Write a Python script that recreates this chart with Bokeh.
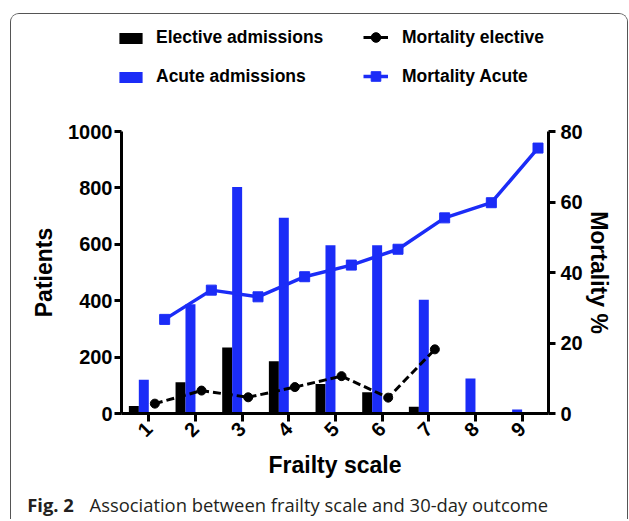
import math
from bokeh.plotting import figure
from bokeh.layouts import column
from bokeh.models import (Range1d, LinearAxis, FixedTicker, Legend, LegendItem,
                          Label, ColumnDataSource)
from bokeh.embed import file_html
from bokeh.resources import INLINE

# ---- data ----
frailty = [1, 2, 3, 4, 5, 6, 7, 8, 9]
elective_admissions = [27, 111, 234, 185, 105, 75, 24, 0, 0]
acute_admissions = [120, 387, 803, 694, 597, 597, 403, 124, 14]
frailty_elective = [1, 2, 3, 4, 5, 6, 7]
mortality_elective = [2.8, 6.5, 4.6, 7.5, 10.6, 4.5, 18.2]
mortality_acute = [26.7, 35.0, 33.1, 38.8, 42.1, 46.6, 55.5, 59.8, 75.3]
left_ticks = [0, 200, 400, 600, 800, 1000]
right_ticks = [0, 20, 40, 60, 80]
series_labels = ["Elective admissions", "Acute admissions",
                 "Mortality elective", "Mortality Acute"]
caption_bold = "Fig. 2"
caption_text = "Association between frailty scale and 30-day outcome"

BLUE = "#1b2cf7"
FONT = "Liberation Sans"
W = 616

src_bars = ColumnDataSource(dict(
    xe=[f - 0.32 for f in frailty], xa=[f - 0.107 for f in frailty],
    e=elective_admissions, a=acute_admissions))
src_me = ColumnDataSource(dict(x=[f + 0.13 for f in frailty_elective], y=mortality_elective))
src_ma = ColumnDataSource(dict(x=[f + 0.34 for f in frailty], y=mortality_acute))
bar_w = 0.214

# ---------------- main chart ----------------
p = figure(width=W, height=381, output_backend="svg", toolbar_location=None,
           x_range=Range1d(0.415, 9.565), y_range=Range1d(0, 1000),
           min_border_left=110, min_border_right=79, min_border_top=31,
           min_border_bottom=66)
p.frame_align = False
p.outline_line_color = None
p.xgrid.visible = False
p.ygrid.visible = False
p.extra_y_ranges = {"mort": Range1d(0, 80)}

p.vbar(x="xe", top="e", width=bar_w, bottom=0, source=src_bars,
       fill_color="black", line_color=None)
p.vbar(x="xa", top="a", width=bar_w, bottom=0, source=src_bars,
       fill_color=BLUE, line_color=None)
p.line("x", "y", source=src_me, y_range_name="mort", line_color="black",
       line_width=3, line_dash="8 4")
p.scatter("x", "y", source=src_me, y_range_name="mort", marker="circle",
          size=9, fill_color="black", line_color="black")
p.line("x", "y", source=src_ma, y_range_name="mort", line_color=BLUE, line_width=3.5)
p.scatter("x", "y", source=src_ma, y_range_name="mort", marker="square",
          size=10, fill_color=BLUE, line_color=BLUE)


def style_axis(ax):
    ax.axis_line_width = 3
    ax.axis_line_color = "black"
    ax.major_tick_line_width = 3
    ax.major_tick_line_color = "black"
    ax.major_tick_out = 7
    ax.major_tick_in = 0
    ax.minor_tick_line_color = None
    ax.major_label_text_font = FONT
    ax.major_label_text_font_style = "bold"
    ax.major_label_text_font_size = "20px"
    ax.major_label_text_color = "black"
    ax.axis_label_text_font = FONT
    ax.axis_label_text_font_style = "bold"
    ax.axis_label_text_font_size = "23px"
    ax.axis_label_text_color = "black"


ly = p.yaxis[0]
style_axis(ly)
ly.ticker = FixedTicker(ticks=left_ticks)
ly.axis_label = "Patients"
ly.major_label_standoff = 2
ly.axis_label_standoff = 8

bx = p.xaxis[0]
style_axis(bx)
bx.ticker = FixedTicker(ticks=frailty)
bx.axis_label = "Frailty scale"
bx.major_tick_out = 8
bx.major_label_orientation = math.pi / 4
bx.major_label_standoff = 4
bx.axis_label_standoff = 6

ry = LinearAxis(y_range_name="mort", ticker=FixedTicker(ticks=right_ticks),
                axis_label="Mortality %")
style_axis(ry)
ry.major_label_standoff = 5
ry.axis_label_standoff = 0
p.add_layout(ry, "right")

# ---------------- legend strip ----------------
lf = figure(width=W, height=86, output_backend="svg", toolbar_location=None,
            x_axis_type=None, y_axis_type=None, min_border=0,
            x_range=Range1d(100, 101), y_range=Range1d(100, 101))
lf.frame_align = False
lf.outline_line_color = None
lf.grid.visible = False
# legend proxies: share the chart's sources, hidden, shown only as legend glyphs
le_bar = lf.vbar(x="xe", top="e", width=bar_w, source=src_bars,
                 fill_color="black", line_color=None, visible=False)
la_bar = lf.vbar(x="xa", top="a", width=bar_w, source=src_bars,
                 fill_color=BLUE, line_color=None, visible=False)
le_line = lf.line("x", "y", source=src_me, line_color="black", line_width=3,
                  visible=False)
le_mark = lf.scatter("x", "y", source=src_me, marker="circle", size=9,
                     fill_color="black", line_color="black", visible=False)
la_line = lf.line("x", "y", source=src_ma, line_color=BLUE, line_width=3.5,
                  visible=False)
la_mark = lf.scatter("x", "y", source=src_ma, marker="square", size=10,
                     fill_color=BLUE, line_color=BLUE, visible=False)

common = dict(orientation="vertical", label_height=20, padding=0,
              margin=0, border_line_color=None, background_fill_alpha=0,
              inactive_fill_alpha=0,
              label_text_font=FONT, label_text_font_style="bold",
              label_text_font_size="17.5px", label_text_color="black")
legA = Legend(items=[LegendItem(label=series_labels[0], renderers=[le_bar]),
                     LegendItem(label=series_labels[1], renderers=[la_bar])],
              location=(105, 13), glyph_width=29, glyph_height=14, spacing=18,
              label_standoff=11, **common)
legB = Legend(items=[LegendItem(label=series_labels[2], renderers=[le_line, le_mark]),
                     LegendItem(label=series_labels[3], renderers=[la_line, la_mark])],
              location=(352, 12), glyph_width=25, glyph_height=24, spacing=15,
              label_standoff=14, **common)
lf.add_layout(legA, "center")
lf.add_layout(legB, "center")

# ---------------- caption strip ----------------
cf = figure(width=W, height=38, output_backend="svg", toolbar_location=None,
            x_axis_type=None, y_axis_type=None, min_border=0,
            x_range=Range1d(0, 1), y_range=Range1d(0, 1))
cf.frame_align = False
cf.outline_line_color = None
cf.grid.visible = False
cf.add_layout(Label(x=15.7, y=15.5, x_units="screen", y_units="screen",
                    text=caption_bold, text_font="Open Sans",
                    text_font_style="bold", text_font_size="18.4px",
                    text_baseline="alphabetic", text_color="#231f20"))
cf.add_layout(Label(x=78, y=15.5, x_units="screen", y_units="screen",
                    text=caption_text, text_font="Open Sans",
                    text_font_size="18.4px", text_baseline="alphabetic",
                    text_color="#231f20"))

layout = column(lf, p, cf, spacing=0, margin=(13, 0, 0, 10),
                styles={"border": "1px solid #555555", "border-bottom": "none",
                        "border-radius": "9px 9px 0 0", "overflow": "hidden"})

open("out.html", "w").write(file_html(layout, INLINE))
